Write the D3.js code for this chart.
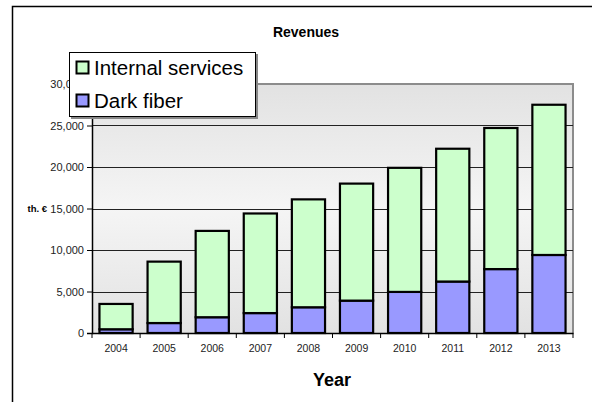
<!DOCTYPE html>
<html>
<head>
<meta charset="utf-8">
<script src="https://cdn.jsdelivr.net/npm/d3@7/dist/d3.min.js"></script>
<style>
  html, body { margin: 0; padding: 0; background: #fff; }
  text { font-family: Arial, "Liberation Sans", sans-serif; }
</style>
</head>
<body>
<svg id="chart" width="592" height="402"></svg>
<script>
const years = ["2004", "2005", "2006", "2007", "2008", "2009", "2010", "2011", "2012", "2013"];
const darkFiber = [450, 1200, 1900, 2400, 3100, 3900, 4950, 6200, 7700, 9400];
const internalServices = [3050, 7400, 10400, 12000, 13000, 14100, 14950, 16000, 17000, 18100];
const yTicks = [0, 5000, 10000, 15000, 20000, 25000, 30000];
const seriesNames = ["Dark fiber", "Internal services"];
const seriesColors = ["#9999ff", "#ccffcc"];

const svg = d3.select("#chart");
const W = 592, H = 402;
const plot = { left: 92, top: 84, right: 573, bottom: 333 };

// outer frame (left and top edges visible)
svg.append("path")
  .attr("d", `M12.5,${H} V6.5 H${W}`)
  .attr("fill", "none").attr("stroke", "#000").attr("stroke-width", 1.5);

// gradient
const defs = svg.append("defs");
const grad = defs.append("linearGradient").attr("id", "bg").attr("x1", 0).attr("y1", 0).attr("x2", 0).attr("y2", 1);
grad.append("stop").attr("offset", "0%").attr("stop-color", "#e2e2e2");
grad.append("stop").attr("offset", "50%").attr("stop-color", "#f5f5f5");
grad.append("stop").attr("offset", "100%").attr("stop-color", "#e2e2e2");

const x = d3.scaleBand().domain(years).range([plot.left, plot.right]).paddingInner(0.31).paddingOuter(0.155);
const xb = d3.scaleBand().domain(years).range([plot.left, plot.right]);
const y = d3.scaleLinear().domain([0, 30000]).range([plot.bottom, plot.top]);

svg.append("rect")
  .attr("x", plot.left).attr("y", plot.top)
  .attr("width", plot.right - plot.left).attr("height", plot.bottom - plot.top)
  .attr("fill", "url(#bg)");

// plot border top/right (gray)
svg.append("path")
  .attr("d", `M${plot.left},${plot.top} H${plot.right} V${plot.bottom}`)
  .attr("fill", "none").attr("stroke", "#8c8c8c").attr("stroke-width", 2);

// gridlines
svg.append("g").selectAll("line").data(yTicks.filter(t => t > 0 && t < 30000)).join("line")
  .attr("x1", plot.left).attr("x2", plot.right)
  .attr("y1", d => Math.round(y(d)) + 0.5).attr("y2", d => Math.round(y(d)) + 0.5)
  .attr("stroke", "#222").attr("stroke-width", 1);

// stacked bars
const stackData = years.map((yr, i) => ({ year: yr, "Dark fiber": darkFiber[i], "Internal services": internalServices[i] }));
const stacked = d3.stack().keys(seriesNames)(stackData);
svg.append("g").selectAll("g").data(stacked).join("g")
  .attr("fill", (d, i) => seriesColors[i])
  .selectAll("rect").data(d => d).join("rect")
  .attr("x", d => x(d.data.year))
  .attr("y", d => y(d[1]))
  .attr("width", x.bandwidth())
  .attr("height", d => y(d[0]) - y(d[1]))
  .attr("stroke", "#000").attr("stroke-width", 2.2);

// y axis
const yAxis = d3.axisLeft(y).tickValues(yTicks).tickSize(5).tickPadding(3)
  .tickFormat(d3.format(","));
const gy = svg.append("g").attr("transform", `translate(${plot.left},0)`).call(yAxis);
gy.select(".domain").attr("stroke", "#000").attr("stroke-width", 1.5);
gy.selectAll(".tick line").attr("stroke", "#000");
gy.selectAll(".tick text").attr("font-size", 11).attr("fill", "#222")
  .attr("font-family", "Arial, 'Liberation Sans', sans-serif");

// x axis
const xAxis = d3.axisBottom(xb).tickSize(0).tickPadding(12);
const gx = svg.append("g").attr("transform", `translate(0,${plot.bottom})`).call(xAxis);
gx.select(".domain").attr("stroke", "#000").attr("stroke-width", 1.5);
gx.selectAll(".tick text").attr("font-size", 10.5).attr("fill", "#222")
  .attr("font-family", "Arial, 'Liberation Sans', sans-serif");
// category separator ticks
svg.append("g").selectAll("line").data(years.concat(["end"])).join("line")
  .attr("x1", (d, i) => plot.left + i * xb.bandwidth()).attr("x2", (d, i) => plot.left + i * xb.bandwidth())
  .attr("y1", plot.bottom).attr("y2", plot.bottom + 5)
  .attr("stroke", "#000").attr("stroke-width", 1);

// titles
svg.append("text").attr("x", 306).attr("y", 37).attr("text-anchor", "middle")
  .attr("font-size", 14).attr("font-weight", "bold").text("Revenues");
svg.append("text").attr("x", 332).attr("y", 386).attr("text-anchor", "middle")
  .attr("font-size", 18).attr("font-weight", "bold").text("Year");
svg.append("text").attr("x", 47).attr("y", y(15000) + 3.5).attr("text-anchor", "end")
  .attr("font-size", 9.5).attr("font-weight", "bold").text("th. €");

// legend
const lg = svg.append("g");
lg.append("rect").attr("x", 71).attr("y", 54).attr("width", 187).attr("height", 65).attr("fill", "#888");
lg.append("rect").attr("x", 69.5).attr("y", 52.5).attr("width", 186).attr("height", 64)
  .attr("fill", "#fff").attr("stroke", "#000").attr("stroke-width", 1);
const legendItems = [
  { name: "Internal services", color: seriesColors[1], y: 75 },
  { name: "Dark fiber", color: seriesColors[0], y: 108 }
];
legendItems.forEach(it => {
  lg.append("rect").attr("x", 76.5).attr("y", it.y - 13.5).attr("width", 12).attr("height", 12)
    .attr("fill", it.color).attr("stroke", "#000").attr("stroke-width", 2);
  lg.append("text").attr("x", 94).attr("y", it.y).attr("font-size", 20.5).text(it.name);
});
</script>
</body>
</html>
